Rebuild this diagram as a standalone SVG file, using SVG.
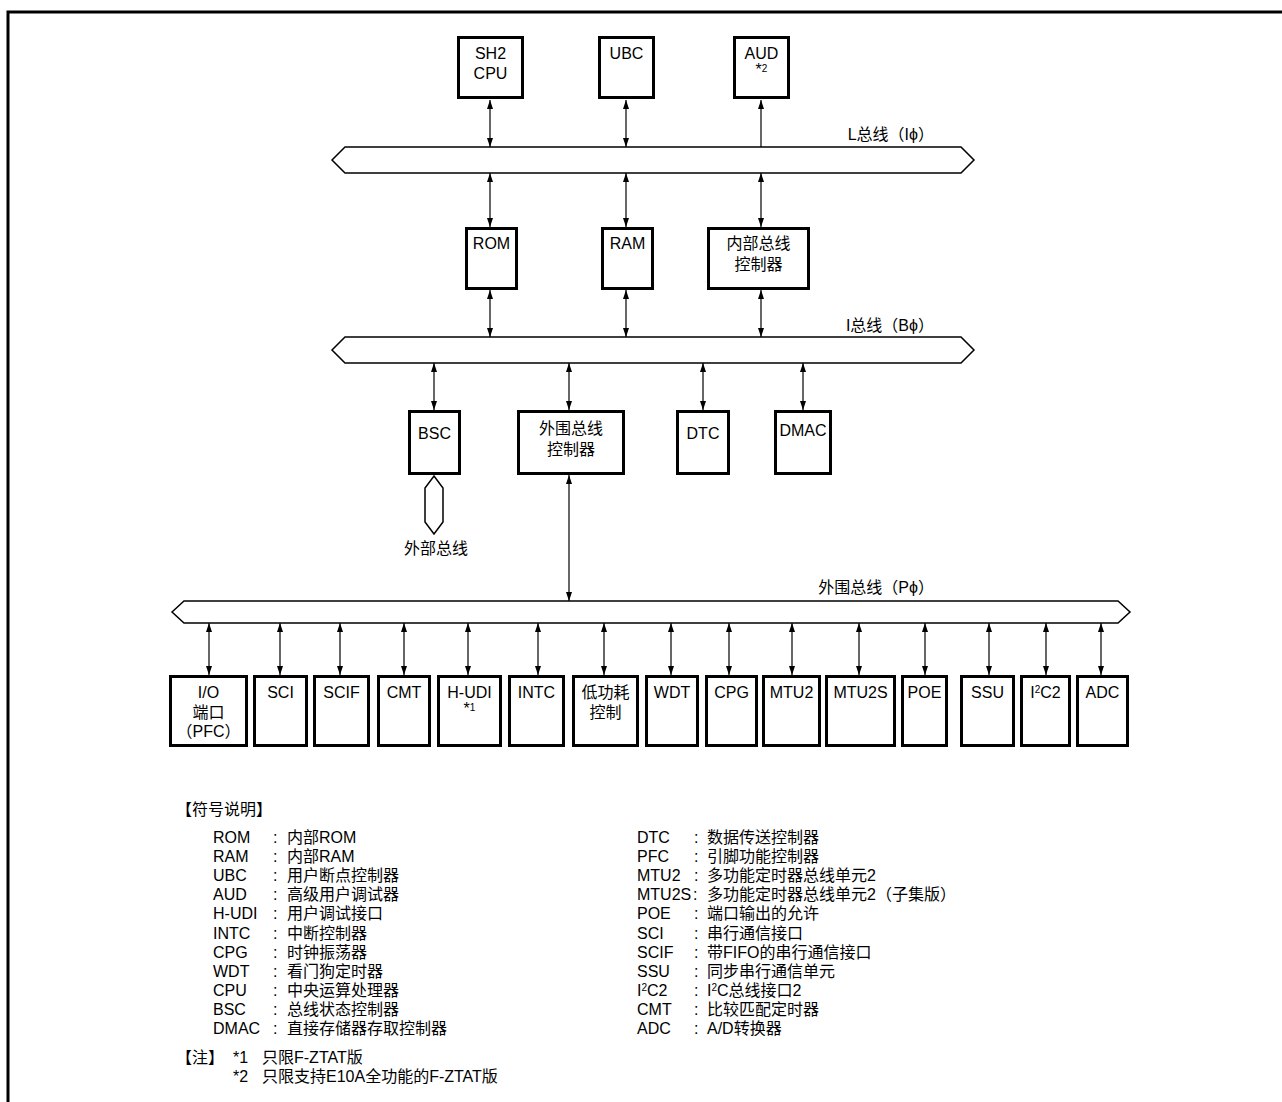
<svg xmlns="http://www.w3.org/2000/svg" width="1282" height="1102" viewBox="0 0 1282 1102">
<style>
text{font-family:"Liberation Sans","Noto Sans CJK SC",sans-serif;font-size:16px;fill:#000}
.c{text-anchor:middle}
.e{text-anchor:end}
.box{fill:#fff;stroke:#000;stroke-width:3}
.bus{fill:#fff;stroke:#000;stroke-width:1.5;stroke-linejoin:miter}
.ln{stroke:#000;stroke-width:1.2;fill:none}
.dbl{marker-start:url(#ah);marker-end:url(#ah)}
.sup{font-size:10px}
</style>
<defs>
<marker id="ah" markerWidth="9" markerHeight="6" refX="9" refY="3" orient="auto-start-reverse" markerUnits="userSpaceOnUse">
<path d="M0,0 L9,3 L0,6 z" fill="#000"/>
</marker>
</defs>
<rect width="1282" height="1102" fill="#fff"/>
<path d="M8,1102 L8,12 L1282,12" fill="none" stroke="#000" stroke-width="3"/>

<g id="connectors">
<line class="ln dbl" x1="490" y1="100" x2="490" y2="147"/>
<line class="ln dbl" x1="626" y1="100" x2="626" y2="147"/>
<line class="ln" x1="761" y1="147" x2="761" y2="100" marker-end="url(#ah)"/>
<line class="ln dbl" x1="490" y1="173" x2="490" y2="227"/>
<line class="ln dbl" x1="626" y1="173" x2="626" y2="227"/>
<line class="ln dbl" x1="761" y1="173" x2="761" y2="227"/>
<line class="ln dbl" x1="490" y1="290" x2="490" y2="337"/>
<line class="ln dbl" x1="626" y1="290" x2="626" y2="337"/>
<line class="ln dbl" x1="761" y1="290" x2="761" y2="337"/>
<line class="ln dbl" x1="434" y1="363" x2="434" y2="410"/>
<line class="ln dbl" x1="569" y1="363" x2="569" y2="410"/>
<line class="ln dbl" x1="703" y1="363" x2="703" y2="410"/>
<line class="ln dbl" x1="803" y1="363" x2="803" y2="410"/>
<line class="ln dbl" x1="569" y1="475" x2="569" y2="601"/>
<line class="ln dbl" x1="209" y1="623" x2="209" y2="675"/>
<line class="ln dbl" x1="280" y1="623" x2="280" y2="675"/>
<line class="ln dbl" x1="340" y1="623" x2="340" y2="675"/>
<line class="ln dbl" x1="404" y1="623" x2="404" y2="675"/>
<line class="ln dbl" x1="468" y1="623" x2="468" y2="675"/>
<line class="ln dbl" x1="538" y1="623" x2="538" y2="675"/>
<line class="ln dbl" x1="604" y1="623" x2="604" y2="675"/>
<line class="ln dbl" x1="671" y1="623" x2="671" y2="675"/>
<line class="ln dbl" x1="729" y1="623" x2="729" y2="675"/>
<line class="ln dbl" x1="792" y1="623" x2="792" y2="675"/>
<line class="ln dbl" x1="859" y1="623" x2="859" y2="675"/>
<line class="ln dbl" x1="925" y1="623" x2="925" y2="675"/>
<line class="ln dbl" x1="989" y1="623" x2="989" y2="675"/>
<line class="ln dbl" x1="1046" y1="623" x2="1046" y2="675"/>
<line class="ln dbl" x1="1101" y1="623" x2="1101" y2="675"/>
</g>

<g id="lbus">
<path class="bus" d="M332,160 L345,147 L961,147 L974,160 L961,173 L345,173 Z"/>
<text class="e" x="934" y="140">L总线（Iϕ）</text>
</g>
<g id="ibus">
<path class="bus" d="M332,350 L345,337 L961,337 L974,350 L961,363 L345,363 Z"/>
<text class="e" x="934" y="331">I总线（Bϕ）</text>
</g>
<g id="pbus">
<path class="bus" d="M172,612 L184,601 L1118,601 L1130,612 L1118,623 L184,623 Z"/>
<text class="e" x="934" y="593">外围总线（Pϕ）</text>
</g>
<g id="extbus">
<path class="bus" d="M434,476 L443,488 L443,522 L434,534 L425,522 L425,488 Z"/>
<text class="c" x="436" y="554">外部总线</text>
</g>

<g id="sh2cpu"><rect class="box" x="458.5" y="37.5" width="64" height="60"/><text class="c" x="490.5" y="59">SH2</text><text class="c" x="490.5" y="79">CPU</text></g>
<g id="ubc"><rect class="box" x="599.5" y="37.5" width="54" height="60"/><text class="c" x="626.5" y="59">UBC</text></g>
<g id="aud"><rect class="box" x="734.5" y="37.5" width="54" height="60"/><text class="c" x="761.5" y="59">AUD</text><text class="c" x="761.5" y="75"><tspan>*</tspan><tspan class="sup" dy="-3">2</tspan></text></g>

<g id="rom"><rect class="box" x="466.5" y="228.5" width="50" height="60"/><text class="c" x="491.5" y="249">ROM</text></g>
<g id="ram"><rect class="box" x="602.5" y="228.5" width="50" height="60"/><text class="c" x="627.5" y="249">RAM</text></g>
<g id="ibc"><rect class="box" x="708.5" y="228.5" width="100" height="60"/><text class="c" x="758.5" y="249">内部总线</text><text class="c" x="758.5" y="270">控制器</text></g>

<g id="bsc"><rect class="box" x="409.5" y="411.5" width="50" height="62"/><text class="c" x="434.5" y="439">BSC</text></g>
<g id="pbc"><rect class="box" x="518.5" y="411.5" width="105" height="62"/><text class="c" x="571" y="434">外围总线</text><text class="c" x="571" y="455">控制器</text></g>
<g id="dtc"><rect class="box" x="677.5" y="411.5" width="51" height="62"/><text class="c" x="703" y="439">DTC</text></g>
<g id="dmac"><rect class="box" x="775.5" y="411.5" width="55" height="62"/><text class="c" x="803" y="436">DMAC</text></g>

<g id="io"><rect class="box" x="170.5" y="676.5" width="76" height="69"/><text class="c" x="208.5" y="698">I/O</text><text class="c" x="208.5" y="718">端口</text><text class="c" x="208.5" y="737">（PFC）</text></g>
<g id="sci"><rect class="box" x="254.5" y="676.5" width="52" height="69"/><text class="c" x="280.5" y="698">SCI</text></g>
<g id="scif"><rect class="box" x="314.5" y="676.5" width="54" height="69"/><text class="c" x="341.5" y="698">SCIF</text></g>
<g id="cmt"><rect class="box" x="378.5" y="676.5" width="51" height="69"/><text class="c" x="404" y="698">CMT</text></g>
<g id="hudi"><rect class="box" x="438.5" y="676.5" width="62" height="69"/><text class="c" x="469.5" y="698">H-UDI</text><text class="c" x="469.5" y="714"><tspan>*</tspan><tspan class="sup" dy="-3">1</tspan></text></g>
<g id="intc"><rect class="box" x="509.5" y="676.5" width="54" height="69"/><text class="c" x="536.5" y="698">INTC</text></g>
<g id="lowpower"><rect class="box" x="573.5" y="676.5" width="64" height="69"/><text class="c" x="605.5" y="698">低功耗</text><text class="c" x="605.5" y="718">控制</text></g>
<g id="wdt"><rect class="box" x="646.5" y="676.5" width="51" height="69"/><text class="c" x="672" y="698">WDT</text></g>
<g id="cpg"><rect class="box" x="706.5" y="676.5" width="50" height="69"/><text class="c" x="731.5" y="698">CPG</text></g>
<g id="mtu2"><rect class="box" x="763.5" y="676.5" width="56" height="69"/><text class="c" x="791.5" y="698">MTU2</text></g>
<g id="mtu2s"><rect class="box" x="826.5" y="676.5" width="68" height="69"/><text class="c" x="860.5" y="698">MTU2S</text></g>
<g id="poe"><rect class="box" x="902.5" y="676.5" width="44" height="69"/><text class="c" x="924.5" y="698">POE</text></g>
<g id="ssu"><rect class="box" x="961.5" y="676.5" width="52" height="69"/><text class="c" x="987.5" y="698">SSU</text></g>
<g id="i2c2"><rect class="box" x="1021.5" y="676.5" width="48" height="69"/><text class="c" x="1045.5" y="698">I<tspan class="sup" dy="-5">2</tspan><tspan dy="5">C2</tspan></text></g>
<g id="adc"><rect class="box" x="1077.5" y="676.5" width="50" height="69"/><text class="c" x="1102.5" y="698">ADC</text></g>

<g id="legend">
<text x="176" y="815">【符号说明】</text>
<text x="213" y="843">ROM</text><text x="273" y="843">:</text><text x="287" y="843">内部ROM</text>
<text x="213" y="862">RAM</text><text x="273" y="862">:</text><text x="287" y="862">内部RAM</text>
<text x="213" y="881">UBC</text><text x="273" y="881">:</text><text x="287" y="881">用户断点控制器</text>
<text x="213" y="900">AUD</text><text x="273" y="900">:</text><text x="287" y="900">高级用户调试器</text>
<text x="213" y="919">H-UDI</text><text x="273" y="919">:</text><text x="287" y="919">用户调试接口</text>
<text x="213" y="938.5">INTC</text><text x="273" y="938.5">:</text><text x="287" y="938.5">中断控制器</text>
<text x="213" y="957.5">CPG</text><text x="273" y="957.5">:</text><text x="287" y="957.5">时钟振荡器</text>
<text x="213" y="976.5">WDT</text><text x="273" y="976.5">:</text><text x="287" y="976.5">看门狗定时器</text>
<text x="213" y="995.5">CPU</text><text x="273" y="995.5">:</text><text x="287" y="995.5">中央运算处理器</text>
<text x="213" y="1015">BSC</text><text x="273" y="1015">:</text><text x="287" y="1015">总线状态控制器</text>
<text x="213" y="1034">DMAC</text><text x="273" y="1034">:</text><text x="287" y="1034">直接存储器存取控制器</text>
<text x="176" y="1063">【注】</text><text x="233" y="1063">*1</text><text x="262" y="1063">只限F-ZTAT版</text>
<text x="233" y="1082">*2</text><text x="262" y="1082">只限支持E10A全功能的F-ZTAT版</text>

<text x="637" y="843">DTC</text><text x="694" y="843">:</text><text x="707" y="843">数据传送控制器</text>
<text x="637" y="862">PFC</text><text x="694" y="862">:</text><text x="707" y="862">引脚功能控制器</text>
<text x="637" y="881">MTU2</text><text x="694" y="881">:</text><text x="707" y="881">多功能定时器总线单元2</text>
<text x="637" y="900">MTU2S</text><text x="693" y="900">:</text><text x="707" y="900">多功能定时器总线单元2（子集版）</text>
<text x="637" y="919">POE</text><text x="694" y="919">:</text><text x="707" y="919">端口输出的允许</text>
<text x="637" y="938.5">SCI</text><text x="694" y="938.5">:</text><text x="707" y="938.5">串行通信接口</text>
<text x="637" y="957.5">SCIF</text><text x="694" y="957.5">:</text><text x="707" y="957.5">带FIFO的串行通信接口</text>
<text x="637" y="976.5">SSU</text><text x="694" y="976.5">:</text><text x="707" y="976.5">同步串行通信单元</text>
<text x="637" y="995.5">I<tspan class="sup" dy="-5">2</tspan><tspan dy="5">C2</tspan></text><text x="694" y="995.5">:</text><text x="707" y="995.5">I<tspan class="sup" dy="-5">2</tspan><tspan dy="5">C总线接口2</tspan></text>
<text x="637" y="1015">CMT</text><text x="694" y="1015">:</text><text x="707" y="1015">比较匹配定时器</text>
<text x="637" y="1034">ADC</text><text x="694" y="1034">:</text><text x="707" y="1034">A/D转换器</text>
</g>
</svg>
